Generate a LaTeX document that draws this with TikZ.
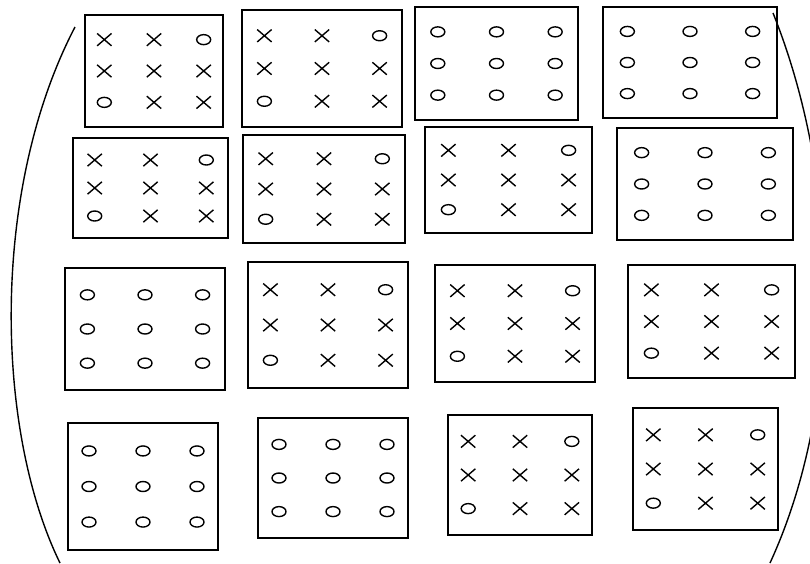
\documentclass[tikz,border=0pt]{standalone}
\usetikzlibrary{shapes.geometric,shapes.misc}

\tikzset{
  board/.style={draw, line width=1.5pt, inner sep=0pt},
  xmark/.style={cross out, draw, line width=1.4pt, minimum width=13pt, minimum height=11pt, inner sep=0pt},
  omark/.style={ellipse, draw, line width=1.4pt, minimum width=14pt, minimum height=10pt, inner sep=0pt},
  % X boards keep the x/o pattern, O boards are all o
  Xx/.style={xmark}, Xo/.style={omark},
  Ox/.style={omark}, Oo/.style={omark},
  side/.style={line width=1.4pt}
}

\begin{document}
\begin{tikzpicture}[x=1pt, y=-1pt]
    \useasboundingbox (0,0) rectangle (810,563);
    \clip (0,0) rectangle (810,563);
    % the sixteen boards: left/top/right/bottom/kind/name
    \foreach \l/\t/\r/\b/\p/\n in {
        85/15/223/127/X/11,  242/10/402/127/X/12,
        415/7/578/120/O/13,  603/7/777/118/O/14,
        73/138/228/238/X/21, 243/135/405/243/X/22,
        425/127/592/233/X/23, 617/128/793/240/O/24,
        65/268/225/390/O/31, 248/262/408/388/X/32,
        435/265/595/382/X/33, 628/265/795/378/X/34,
        68/423/218/550/O/41, 258/418/408/538/O/42,
        448/415/592/535/X/43, 633/408/778/530/X/44} {
      \node[board, minimum width={\r-\l}, minimum height={\b-\t}] (b\n)
        at ({(\l+\r)/2},{(\t+\b)/2}) {};
      \foreach \m [count=\k from 0] in {x,x,o,x,x,x,o,x,x} {
        \pgfmathsetmacro{\cx}{\l+(0.14+0.36*mod(\k,3))*(\r-\l)}
        \pgfmathsetmacro{\cy}{\t+(0.22+0.28*int(\k/3))*(\b-\t)}
        \node[\p\m] (b\n-\k) at (\cx,\cy) {};
      }
    }
    % the two big brackets
    \draw[side] (75,27) .. controls (-10,190) and (-5,430) .. (60,563);
    \draw[side] (773,13) .. controls (840,180) and (845,400) .. (770,563);
\end{tikzpicture}
\end{document}
